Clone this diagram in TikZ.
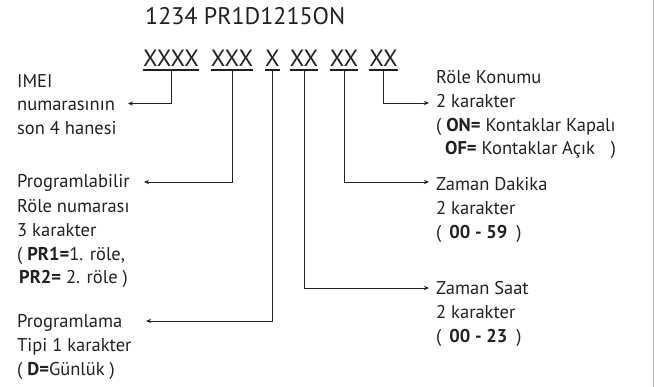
\documentclass[tikz,border=0pt]{standalone}
\usepackage{fontspec}
\setmainfont{PT Sans}
\usetikzlibrary{calc,arrows.meta}
\definecolor{ink}{HTML}{231F20}
\begin{document}
\begin{tikzpicture}[x=1pt,y=-1pt,
  txt/.style={anchor=base west,inner sep=0pt,font=\fontsize{18.5}{21}\selectfont,text=ink},
  big/.style={anchor=base,inner sep=0pt,font=\fontsize{23.5}{26}\selectfont,text=ink},
  conn/.style={draw=ink,line width=0.9pt},
  arr/.style={conn,-{Stealth[length=5pt,width=4.2pt]}},
  uline/.style={draw=ink,line width=2pt}]
\useasboundingbox (0,0) rectangle (654,387);
\draw[black!30,line width=0.8pt] (653.4,0) -- (653.4,387);
% title and groups
\node[big,anchor=base west,font=\fontsize{24}{27}\selectfont] (title) at (145,25) {1234 PR1D1215ON};
\node[big] (g1) at (171,67) {XXXX};
\node[big] (g2) at (232,67) {XXX};
\node[big] (g3) at (272.5,67) {X};
\node[big] (g4) at (304,67) {XX};
\node[big] (g5) at (344,67) {XX};
\node[big] (g6) at (383.5,67) {XX};
\foreach \g in {g1,g2,g3,g4,g5,g6}
  \draw[uline] ([yshift=-2.6pt]\g.base west) -- ([yshift=-2.6pt]\g.base east);
% left texts
\node[txt] (imei1) at (17,88) {IMEI};
\node[txt] (imei2) at (17,111) {numarasının};
\node[txt] (imei3) at (17,134.5) {son 4 hanesi};
\node[txt] (prl1) at (17,188) {Programlabilir};
\node[txt] (prl2) at (17,212.5) {Röle numarası};
\node[txt] (prl3) at (17,237) {3 karakter};
\node[txt] (prl4) at (17,261) {( \textbf{PR1=}1. röle,};
\node[txt] (prl5) at (17,284) {\hspace{2pt}\textbf{PR2=} 2. röle )};
\node[txt] (pt1) at (17,327.5) {Programlama};
\node[txt] (pt2) at (17,351.5) {Tipi 1 karakter};
\node[txt] (pt3) at (17,375.5) {( \textbf{D=}Günlük )};
% right texts
\node[txt] (rk1) at (436,84) {Röle Konumu};
\node[txt] (rk2) at (436,108) {2 karakter};
\node[txt] (rk3) at (436,131.5) {( \textbf{ON=} Kontaklar Kapalı};
\node[txt] (rk4) at (436,154.5) {\hspace{9pt}\textbf{OF=} Kontaklar Açık\hspace{16pt})};
\node[txt] (zd1) at (436,190.5) {Zaman Dakika};
\node[txt] (zd2) at (436,215) {2 karakter};
\node[txt] (zd3) at (436,239) {(\hspace{8pt}\textbf{00 - 59}\hspace{9pt})};
\node[txt] (zs1) at (436,294.5) {Zaman Saat};
\node[txt] (zs2) at (436,318.5) {2 karakter};
\node[txt] (zs3) at (436,342.5) {(\hspace{8pt}\textbf{00 - 23}\hspace{9pt})};
% connectors
\draw[arr] ([yshift=-3.4pt]g1.base) |- ([yshift=7.5pt]imei2.base -| 128,0);
\draw[arr] ([yshift=-3.4pt]g2.base) |- ([yshift=6pt]prl1.base -| 144,0);
\draw[arr] ([yshift=-3.4pt]g3.base) |- ([yshift=6.5pt]pt1.base -| 146,0);
\draw[arr] ([yshift=-3.4pt]g4.base) |- ([yshift=6.5pt]zs1.base -| 429,0);
\draw[arr] ([yshift=-3.4pt]g5.base) |- ([yshift=8.5pt]zd1.base -| 429,0);
\draw[arr] ([yshift=-3.4pt]g6.base) |- ([yshift=5pt]rk2.base -| 429,0);
\end{tikzpicture}
\end{document}
